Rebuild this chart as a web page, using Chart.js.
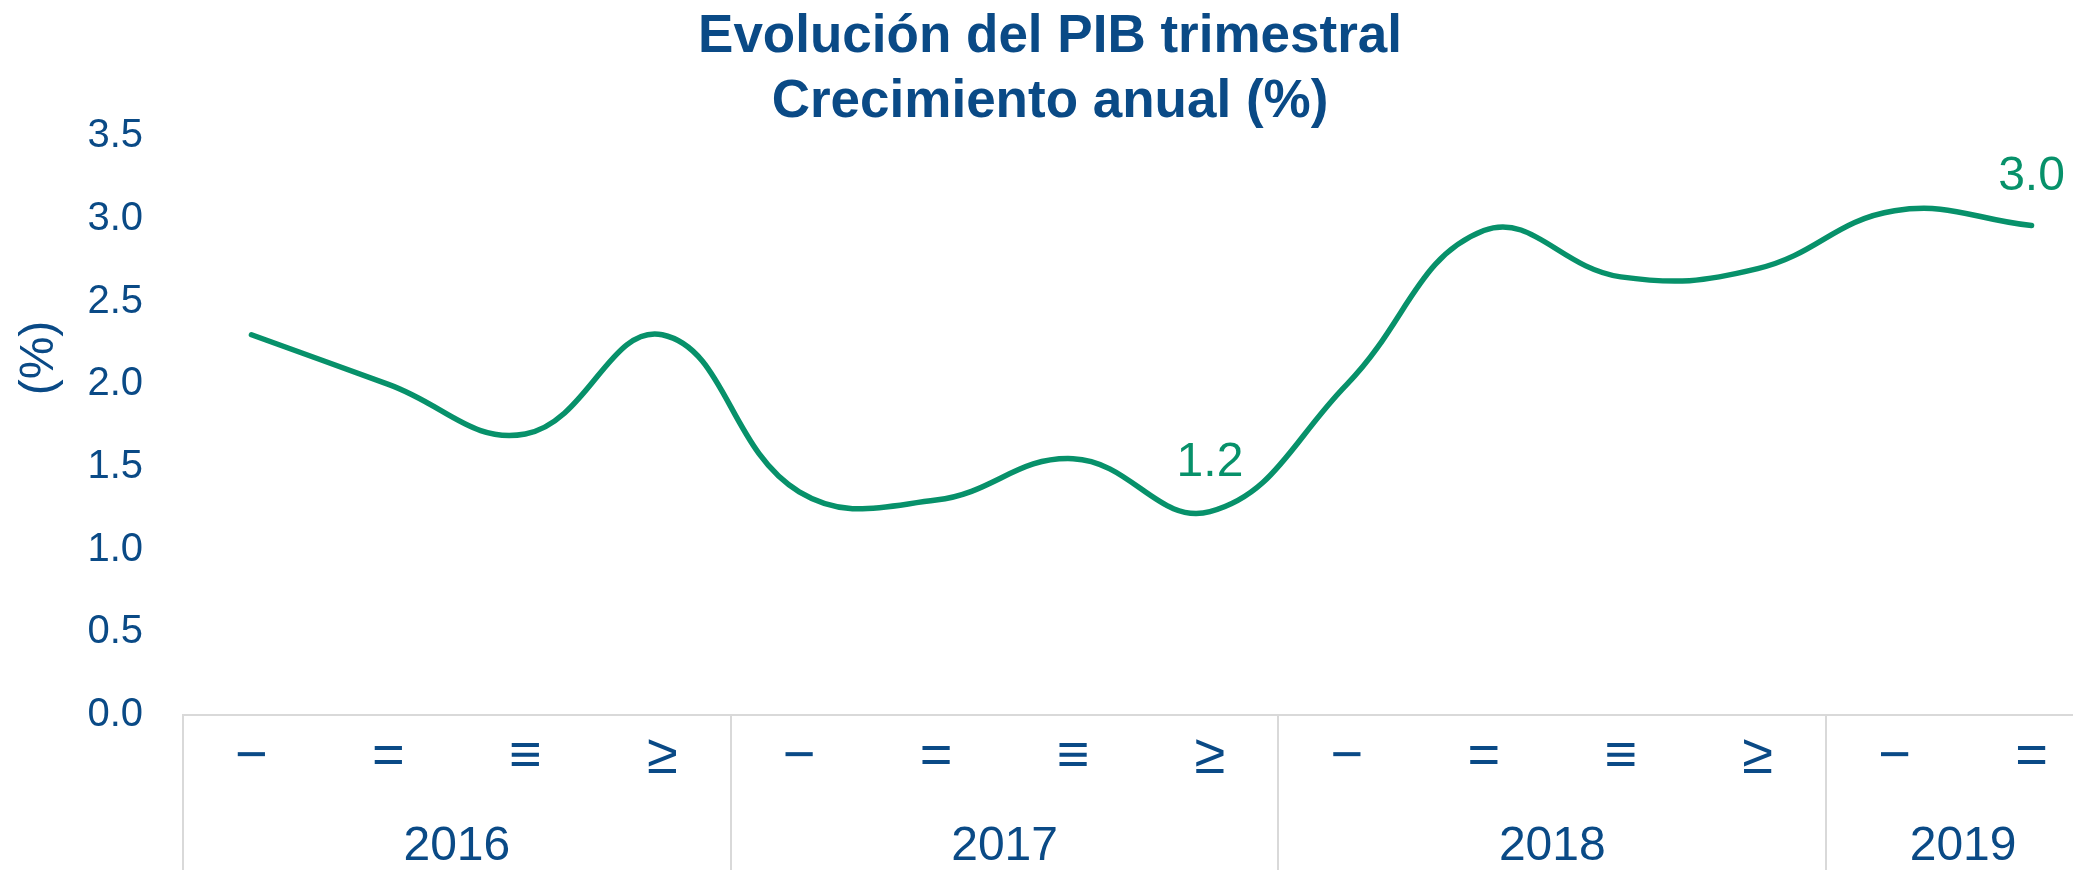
<!DOCTYPE html>
<html lang="es">
<head>
<meta charset="utf-8">
<title>Evolución del PIB trimestral</title>
<script src="https://cdn.jsdelivr.net/npm/chart.js@4/dist/chart.umd.min.js"></script>
<style>
  html, body { margin: 0; padding: 0; background: #fff; overflow: hidden; }
  canvas { display: block; }
</style>
</head>
<body>
<canvas id="pibChart" width="2100" height="870"></canvas>
<script>
// quarter labels as they appear in the picture, one per point
const quarters = ['−', '=', '≡', '≥', '−', '=', '≡', '≥', '−', '=', '≡', '≥', '−', '='];
const years = ['2016', '2017', '2018', '2019'];
const quartersPerYear = [4, 4, 4, 2];

// annual growth (%)
const gdp = [2.3, 2.0, 1.7, 2.3, 1.35, 1.3, 1.55, 1.23, 2.0, 2.93, 2.65, 2.7, 3.05, 2.96];
const labelledPoints = [7, 13];

const yMin = 0;
const yMax = 3.5;
const yStep = 0.5;

const BLUE = '#0a4a86';
const GREEN = '#07916a';
const FONT = "'Liberation Sans', Arial, sans-serif";

// year centers and group borders, in category units
const yearCenters = [];
const yearBorders = [];
let start = 0;
quartersPerYear.forEach(n => {
    yearBorders.push(start - 0.5);
    yearCenters.push(start + (n - 1) / 2);
    start += n;
});

const valueLabels = {
    id: 'valueLabels',
    afterDatasetsDraw(chart) {
        const ctx = chart.ctx;
        const meta = chart.getDatasetMeta(0);
        ctx.save();
        ctx.font = '48px ' + FONT;
        ctx.fillStyle = GREEN;
        ctx.textAlign = 'center';
        ctx.textBaseline = 'middle';
        labelledPoints.forEach(i => {
            const pt = meta.data[i];
            ctx.fillText(gdp[i].toFixed(1), pt.x, pt.y - 49);
        });
        ctx.restore();
    }
};

const groupLines = {
    id: 'groupLines',
    afterDraw(chart) {
        const ctx = chart.ctx;
        const x = chart.scales.x;
        ctx.save();
        ctx.strokeStyle = '#d9d9d9';
        ctx.lineWidth = 2;
        yearBorders.forEach(b => {
            const px = Math.round(x.getPixelForValue(b));
            ctx.beginPath();
            ctx.moveTo(px, chart.chartArea.bottom);
            ctx.lineTo(px, chart.height);
            ctx.stroke();
        });
        ctx.restore();
    }
};

const yTitle = {
    id: 'yTitle',
    afterDraw(chart) {
        const ctx = chart.ctx;
        ctx.save();
        ctx.translate(40, 358);
        ctx.rotate(-Math.PI / 2);
        ctx.font = '48px ' + FONT;
        ctx.fillStyle = BLUE;
        ctx.textAlign = 'center';
        ctx.textBaseline = 'middle';
        ctx.fillText('(%)', 0, 0);
        ctx.restore();
    }
};

new Chart(document.getElementById('pibChart'), {
    type: 'line',
    data: {
        labels: quarters,
        datasets: [{
            data: gdp,
            borderColor: GREEN,
            borderWidth: 5.5,
            borderCapStyle: 'round',
            pointRadius: 0,
            tension: 0.42,
            fill: false
        }]
    },
    options: {
        responsive: false,
        devicePixelRatio: 1,
        animation: false,
        layout: { padding: 0 },
        plugins: {
            legend: { display: false },
            tooltip: { enabled: false },
            title: {
                display: true,
                text: ['Evolución del PIB trimestral', 'Crecimiento anual (%)'],
                color: BLUE,
                font: { family: FONT, size: 53, weight: 'bold', lineHeight: 1.22 },
                padding: { top: 5, bottom: 2 }
            }
        },
        scales: {
            x: {
                type: 'category',
                offset: true,
                weight: 0,
                afterFit: axis => { axis.height = 68; },
                grid: { display: false, drawTicks: false, offset: true },
                border: { display: true, color: '#d9d9d9', width: 2 },
                ticks: {
                    color: BLUE,
                    font: { family: FONT, size: 56 },
                    padding: 9,
                    autoSkip: false,
                    maxRotation: 0
                }
            },
            year: {
                type: 'linear',
                position: 'bottom',
                weight: 1,
                min: -0.5,
                max: quarters.length - 0.5,
                afterFit: axis => { axis.height = 87; },
                afterBuildTicks: axis => {
                    axis.ticks = yearCenters.map(v => ({ value: v }));
                },
                grid: { display: false, drawTicks: false },
                border: { display: false },
                ticks: {
                    color: BLUE,
                    font: { family: FONT, size: 48 },
                    padding: 35,
                    autoSkip: false,
                    maxRotation: 0,
                    callback: (v, i) => years[i]
                }
            },
            y: {
                min: yMin,
                max: yMax,
                afterFit: axis => { axis.width = 183; },
                grid: { display: false, drawTicks: false },
                border: { display: false },
                ticks: {
                    stepSize: yStep,
                    color: BLUE,
                    font: { family: FONT, size: 40 },
                    padding: 40,
                    callback: v => v.toFixed(1)
                }
            }
        }
    },
    plugins: [valueLabels, groupLines, yTitle]
});
</script>
</body>
</html>
